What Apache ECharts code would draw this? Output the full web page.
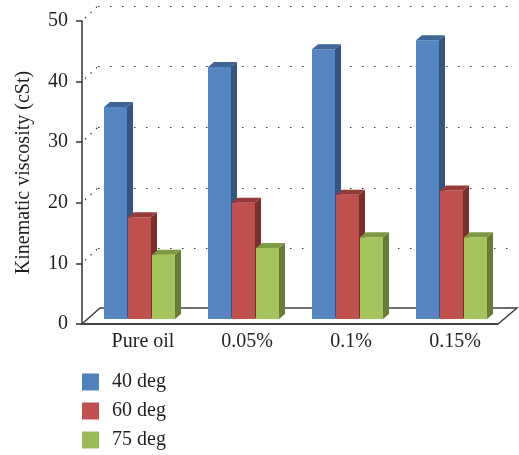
<!DOCTYPE html>
<html lang="en">
<head>
    <meta charset="UTF-8" />
    <title>Kinematic viscosity</title>
    <script src="https://cdn.jsdelivr.net/npm/echarts@6/dist/echarts.min.js"></script>
</head>
<body style="margin:0">
    <div id="main" style="width: 519px; height: 455px"></div>
    <script>
        var categories = ["Pure oil", "0.05%", "0.1%", "0.15%"];
        var deg40 = [35.0, 41.6, 44.5, 46.0];
        var deg60 = [16.8, 19.2, 20.5, 21.2];
        var deg75 = [10.6, 11.7, 13.5, 13.5];
        var yTicks = [10, 20, 30, 40, 50];

        var font = "Liberation Serif";
        var ink = "#231f20";

        // 3D look: bar depth, and how far the back wall sits behind the front
        var barW = 23, depX = 6, depY = 5, lift = 5;
        var wallX = 16, wallY = 15;

        function toPairs(arr) {
            var out = [];
            for (var i = 0; i < arr.length; i++) {
                out.push([i, arr[i]]);
            }
            return out;
        }

        function barRender(offset, colors) {
            return function (params, api) {
                var base = api.coord([api.value(0), 0]);
                var top = api.coord([api.value(0), api.value(1)]);
                var x = base[0] + offset;
                var y0 = base[1] - lift;
                var y1 = top[1] - lift;
                return {
                    type: "group",
                    children: [
                        { type: "rect", shape: { x: x, y: y1, width: barW, height: y0 - y1 }, style: { fill: colors[0] } },
                        { type: "polygon", shape: { points: [[x + barW, y1], [x + barW + depX, y1 - depY], [x + barW + depX, y0 - depY], [x + barW, y0]] }, style: { fill: colors[1] } },
                        { type: "polygon", shape: { points: [[x, y1], [x + depX, y1 - depY], [x + barW + depX, y1 - depY], [x + barW, y1]] }, style: { fill: colors[2] } }
                    ]
                };
            };
        }

        function floorRender(params, api) {
            var p = api.coord([0, 0]);
            var bw = api.size([1, 0])[0];
            var left = p[0] - bw / 2;
            var right = left + categories.length * bw;
            var y = p[1];
            return {
                type: "group",
                children: [
                    { type: "polygon", shape: { points: [[left, y], [right, y], [right + wallX + 3, y - wallY - 1], [left + wallX + 2, y - wallY - 1]] }, style: { fill: "#fff", stroke: "#404040", lineWidth: 1.5 } },
                    { type: "line", shape: { x1: left, y1: y, x2: right, y2: y }, style: { stroke: "#404040", lineWidth: 2 } }
                ]
            };
        }

        function wallRender(params, api) {
            var p = api.coord([0, api.value(0)]);
            var bw = api.size([1, 0])[0];
            var left = p[0] - bw / 2;
            return {
                type: "line",
                shape: { x1: left + 3, y1: p[1] - 3, x2: left + wallX, y2: p[1] - wallY },
                style: { stroke: "#333", lineWidth: 1.2, lineDash: [1.5, 6] }
            };
        }

        var chart = echarts.init(document.getElementById("main"));

        var option = {
            animation: false,
            legend: {
                data: ["40 deg", "60 deg", "75 deg"],
                orient: "vertical",
                left: 82,
                top: 372,
                padding: 0,
                itemWidth: 17,
                itemHeight: 17,
                itemGap: 9,
                icon: "rect",
                textStyle: { fontFamily: font, fontSize: 20, color: ink, padding: [0, 0, 0, 8], lineHeight: 20 }
            },
            grid: [
                { left: 82, top: 21, right: 21, bottom: 131 },
                { left: 98, top: 6, right: 3, bottom: 146 }
            ],
            xAxis: [
                {
                    type: "category",
                    gridIndex: 0,
                    data: categories,
                    axisLine: { show: false },
                    axisTick: { show: false },
                    axisLabel: { fontFamily: font, fontSize: 20, color: ink, margin: 8, padding: [0, 0, 0, 18] }
                },
                {
                    type: "category",
                    gridIndex: 1,
                    data: categories,
                    show: false
                }
            ],
            yAxis: [
                {
                    type: "value",
                    gridIndex: 0,
                    min: 0,
                    max: 50,
                    interval: 10,
                    name: "Kinematic viscosity (cSt)",
                    nameLocation: "middle",
                    nameGap: 48,
                    nameTextStyle: { fontFamily: font, fontSize: 20, color: ink },
                    axisLine: { show: true, lineStyle: { color: "#333", width: 1.5 } },
                    axisTick: { show: true, length: 6, lineStyle: { color: "#333", width: 1.5 } },
                    axisLabel: { fontFamily: font, fontSize: 20, color: ink, margin: 14 },
                    splitLine: { show: false }
                },
                {
                    type: "value",
                    gridIndex: 1,
                    min: 0,
                    max: 50,
                    interval: 10,
                    axisLine: { show: false },
                    axisTick: { show: false },
                    axisLabel: { show: false },
                    splitLine: { show: true, lineStyle: { color: "#333", width: 1.2, type: [1.5, 10.5] } }
                }
            ],
            series: [
                {
                    name: "floor",
                    type: "custom",
                    xAxisIndex: 0,
                    yAxisIndex: 0,
                    z: 1,
                    silent: true,
                    renderItem: floorRender,
                    data: [[0, 0]]
                },
                {
                    name: "wall",
                    type: "custom",
                    xAxisIndex: 0,
                    yAxisIndex: 0,
                    z: 1,
                    silent: true,
                    renderItem: wallRender,
                    encode: { y: 0 },
                    data: yTicks.map(function (v) { return [v]; })
                },
                {
                    name: "40 deg",
                    type: "custom",
                    z: 3,
                    itemStyle: { color: "#4F81BD" },
                    renderItem: barRender(-30, ["#5586C1", "#34557F", "#3E6595"]),
                    encode: { x: 0, y: 1 },
                    data: toPairs(deg40)
                },
                {
                    name: "60 deg",
                    type: "custom",
                    z: 4,
                    itemStyle: { color: "#C0504D" },
                    renderItem: barRender(-6, ["#C0504D", "#7B2E2D", "#963A38"]),
                    encode: { x: 0, y: 1 },
                    data: toPairs(deg60)
                },
                {
                    name: "75 deg",
                    type: "custom",
                    z: 5,
                    itemStyle: { color: "#9BBB59" },
                    renderItem: barRender(18, ["#A5C45C", "#687C37", "#7E9A43"]),
                    encode: { x: 0, y: 1 },
                    data: toPairs(deg75)
                }
            ]
        };
        chart.setOption(option);
    </script>
</body>
</html>
